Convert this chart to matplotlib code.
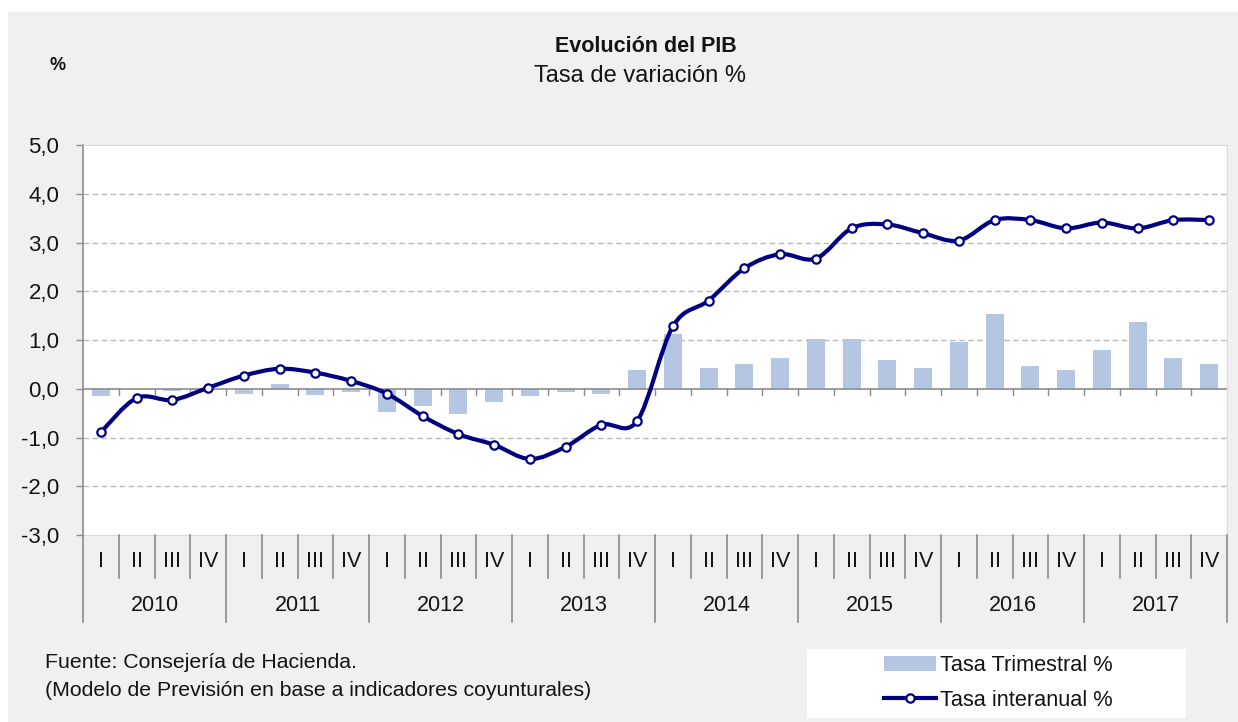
import matplotlib
matplotlib.use('Agg')
import matplotlib.pyplot as plt
from matplotlib.path import Path
from matplotlib.patches import PathPatch, Rectangle, Patch
from matplotlib.lines import Line2D
import matplotlib.transforms as mtransforms

plt.rcParams['font.family'] = ['Liberation Sans', 'DejaVu Sans']

# data
years = ['2010', '2011', '2012', '2013', '2014', '2015', '2016', '2017']
quarters = ['I', 'II', 'III', 'IV']
tasa_trimestral = [-0.15, 0.0, -0.05, 0.0,
                   -0.10, 0.09, -0.12, -0.07,
                   -0.48, -0.36, -0.52, -0.27,
                   -0.15, -0.06, -0.11, 0.38,
                   1.12, 0.43, 0.51, 0.63,
                   1.03, 1.03, 0.59, 0.43,
                   0.96, 1.54, 0.47, 0.38,
                   0.80, 1.37, 0.63, 0.51]
tasa_interanual = [-0.89, -0.19, -0.23, 0.02,
                   0.27, 0.41, 0.33, 0.16,
                   -0.10, -0.56, -0.93, -1.15,
                   -1.44, -1.19, -0.74, -0.66,
                   1.28, 1.81, 2.47, 2.76,
                   2.67, 3.29, 3.37, 3.19,
                   3.04, 3.46, 3.46, 3.29,
                   3.41, 3.29, 3.46, 3.46]

W, H = 1238, 722
navy = '#000080'
bar_col = '#b4c6e2'
txt = '#141414'
gray_axis = '#8c8c8c'

fig = plt.figure(figsize=(W / 100, H / 100), dpi=100, facecolor='white')
# grey chart background
fig.patches.append(Rectangle((8 / W, 0), 1 - 8 / W, 1 - 12 / H, transform=fig.transFigure,
                             facecolor='#f0f0f0', edgecolor='none', zorder=-10))

ax = fig.add_axes([83 / W, 1 - 535 / H, 1144 / W, 390 / H])
ax.set_facecolor('white')

n = len(tasa_interanual)
x = list(range(n))

ax.set_xlim(-0.5, n - 0.5)
ax.set_ylim(-3, 5)
ax.set_yticks(range(-3, 6))
ax.set_yticklabels([('%.1f' % v).replace('.', ',') for v in range(-3, 6)])
ax.set_xticks([])
ax.tick_params(axis='y', direction='out', length=5, width=1, color=gray_axis,
               labelsize=16, labelcolor=txt, pad=12)
for s in ['top', 'right', 'bottom']:
    ax.spines[s].set_color('#d9d9d9')
ax.spines['left'].set_color(gray_axis)
ax.spines['left'].set_linewidth(1.2)

# dashed grid lines
for v in [-2, -1, 1, 2, 3, 4]:
    ax.axhline(v, color='#b8b8b8', lw=1, ls=(0, (4, 2.5)), zorder=1)

# bars
ax.bar(x, tasa_trimestral, width=0.5, color=bar_col, zorder=2)

# zero axis with small ticks at category boundaries
ax.axhline(0, color=gray_axis, lw=1.2, zorder=3)
for b in range(1, n):
    ax.plot([b - 0.5, b - 0.5], [0, -0.13], color=gray_axis, lw=1, zorder=3)

# smoothed line (bezier through the points)
pts = list(zip(x, tasa_interanual))
verts = [pts[0]]
codes = [Path.MOVETO]
for i in range(n - 1):
    p_prev = pts[i - 1] if i > 0 else pts[i]
    p0 = pts[i]
    p1 = pts[i + 1]
    p_next = pts[i + 2] if i + 2 < n else pts[i + 1]
    c1 = (p0[0] + (p1[0] - p_prev[0]) / 6, p0[1] + (p1[1] - p_prev[1]) / 6)
    c2 = (p1[0] - (p_next[0] - p0[0]) / 6, p1[1] - (p_next[1] - p0[1]) / 6)
    verts += [c1, c2, p1]
    codes += [Path.CURVE4] * 3
ax.add_patch(PathPatch(Path(verts, codes), facecolor='none', edgecolor=navy,
                       lw=3.0, capstyle='round', joinstyle='round', zorder=4))
ax.plot(x, tasa_interanual, 'o', ms=6, mfc='white', mec=navy, mew=1.6, zorder=5)

# category axis: quarters and years
tr = mtransforms.blended_transform_factory(ax.transData, ax.transAxes)
for i in range(n):
    ax.text(i, -0.069, quarters[i % 4], transform=tr, ha='center', va='center',
            fontsize=15.5, color=txt)
for b in range(0, n + 1):
    low = -0.223 if b % 4 == 0 else -0.110
    ax.plot([b - 0.5, b - 0.5], [0, low], transform=tr, color=gray_axis, lw=1.2,
            clip_on=False, zorder=3)
for k, yr in enumerate(years):
    ax.text(4 * k + 1.5, -0.182, yr, transform=tr, ha='center', va='center',
            fontsize=15.5, color=txt)

# titles
fig.text(646 / W, 1 - 47 / H, 'Evolución del PIB', ha='center', va='center',
         fontsize=15.5, fontweight='bold', color=txt)
fig.text(640 / W, 1 - 76 / H, 'Tasa de variación %', ha='center', va='center',
         fontsize=17, color=txt)
fig.text(58 / W, 1 - 66 / H, '%', ha='center', va='center', fontsize=13,
         fontweight='bold', color=txt)

# source
fig.text(45 / W, 1 - 663 / H, 'Fuente: Consejería de Hacienda.', ha='left',
         va='center', fontsize=15.3, color=txt)
fig.text(45 / W, 1 - 690 / H, '(Modelo de Previsión en base a indicadores coyunturales)',
         ha='left', va='center', fontsize=15.3, color=txt)

# legend
fig.patches.append(Rectangle((807 / W, 1 - 718 / H), 379 / W, 69 / H,
                             transform=fig.transFigure, facecolor='white',
                             edgecolor='none', zorder=-5))
handles = [Patch(facecolor=bar_col, edgecolor='none'),
           Line2D([], [], color=navy, lw=3.0, marker='o', ms=6, mfc='white',
                  mec=navy, mew=1.6)]
fig.legend(handles, ['Tasa Trimestral %', 'Tasa interanual %'],
           loc='center left', bbox_to_anchor=(864 / W, 1 - 683 / H), frameon=False,
           fontsize=15.7, handlelength=2.4, handletextpad=0.2, labelspacing=0.65,
           labelcolor=txt)

fig.savefig('out.png', dpi=100, facecolor=fig.get_facecolor())
